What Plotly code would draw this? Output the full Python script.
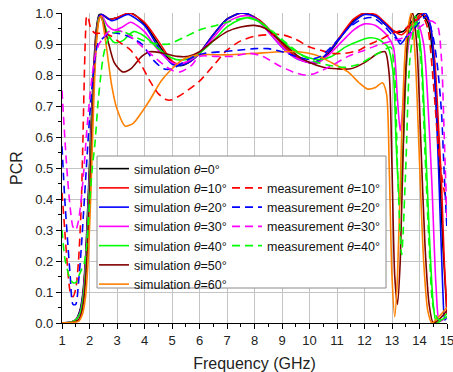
import plotly.graph_objects as go

# ---------------- data ----------------
sim_0 = [(1.0,0.0),(1.3,0.002),(1.5,0.01),(1.65,0.04),(1.75,0.09),(1.85,0.2),(1.95,0.4),(2.05,0.62),(2.15,0.82),(2.25,0.95),
         (2.35,0.995),(2.45,0.995),(2.7,0.98),(3.0,0.985),(3.5,1.0),(4.0,0.965),(4.5,0.9),(5.0,0.84),(5.3,0.83),(5.6,0.84),
         (6.0,0.87),(6.5,0.93),(7.0,0.98),(7.5,1.0),(7.8,0.995),(8.2,0.975),(8.6,0.94),(9.0,0.9),(9.5,0.86),(10.0,0.84),
         (10.3,0.84),(10.7,0.87),(11.2,0.93),(11.6,0.975),(12.0,1.0),(12.4,0.99),(12.8,0.96),(13.1,0.94),(13.4,0.94),(13.7,0.97),
         (14.0,1.0),(14.3,0.97),(14.5,0.85),(14.7,0.55),(14.85,0.25),(15.0,0.03)]
sim_10 = [(1.0,0.0),(1.3,0.002),(1.5,0.01),(1.65,0.035),(1.75,0.08),(1.85,0.19),(1.95,0.38),(2.05,0.6),(2.15,0.8),(2.25,0.94),
          (2.35,0.99),(2.45,0.995),(2.75,0.98),(3.0,0.985),(3.45,1.0),(4.0,0.97),(4.5,0.91),(5.0,0.845),(5.25,0.835),(5.6,0.84),
          (6.0,0.87),(6.5,0.93),(7.0,0.98),(7.5,1.0),(7.8,0.995),(8.2,0.975),(8.6,0.94),(9.0,0.9),(9.5,0.86),(10.0,0.84),
          (10.3,0.845),(10.7,0.875),(11.2,0.935),(11.6,0.98),(12.0,1.0),(12.4,0.995),(12.8,0.965),(13.1,0.94),(13.35,0.93),(13.7,0.96),
          (14.1,1.0),(14.35,0.97),(14.55,0.85),(14.7,0.62),(14.8,0.45),(14.9,0.2),(15.0,0.03)]
sim_20 = [(1.0,0.0),(1.3,0.002),(1.5,0.01),(1.65,0.035),(1.75,0.08),(1.85,0.18),(1.95,0.37),(2.05,0.58),(2.15,0.79),(2.25,0.93),
          (2.35,0.99),(2.45,0.995),(2.8,0.975),(3.0,0.98),(3.4,0.995),(4.0,0.96),(4.5,0.89),(5.0,0.835),(5.2,0.83),(5.6,0.84),
          (6.0,0.87),(6.5,0.93),(7.0,0.98),(7.5,1.0),(7.8,0.995),(8.2,0.97),(8.6,0.93),(9.0,0.89),(9.5,0.855),(10.0,0.84),
          (10.3,0.845),(10.7,0.875),(11.2,0.93),(11.6,0.97),(12.0,0.995),(12.4,0.99),(12.8,0.96),(13.1,0.93),(13.3,0.9),(13.5,0.92),
          (13.8,0.96),(14.2,1.0),(14.4,0.96),(14.55,0.8),(14.7,0.48),(14.85,0.1),(14.92,0.01),(15.0,0.02)]
sim_30 = [(1.0,0.0),(1.3,0.002),(1.5,0.01),(1.65,0.03),(1.75,0.07),(1.85,0.17),(1.95,0.35),(2.05,0.57),(2.15,0.78),(2.25,0.92),
          (2.35,0.985),(2.45,0.99),(2.65,0.96),(2.9,0.945),(3.2,0.955),(3.5,0.97),(4.0,0.94),(4.5,0.88),(5.0,0.84),(5.2,0.835),
          (5.6,0.845),(6.0,0.87),(6.5,0.92),(7.0,0.97),(7.5,0.99),(7.8,0.99),(8.2,0.97),(8.6,0.93),(9.0,0.89),(9.5,0.855),
          (10.0,0.84),(10.3,0.84),(10.7,0.865),(11.2,0.91),(11.6,0.945),(12.0,0.965),(12.4,0.96),(12.8,0.93),(13.05,0.89),(13.2,0.72),
          (13.3,0.62),(13.45,0.75),(13.65,0.92),(13.95,0.96),(14.15,0.9),(14.3,0.72),(14.45,0.45),(14.6,0.12),(14.72,0.005),(14.85,0.01),
          (15.0,0.02)]
sim_40 = [(1.0,0.0),(1.3,0.002),(1.5,0.01),(1.65,0.03),(1.75,0.07),(1.85,0.16),(1.95,0.34),(2.05,0.56),(2.15,0.77),(2.25,0.92),
          (2.35,0.985),(2.45,0.985),(2.65,0.935),(2.9,0.905),(3.2,0.91),(3.6,0.94),(4.0,0.925),(4.5,0.885),(5.0,0.855),(5.3,0.848),
          (5.7,0.855),(6.0,0.87),(6.5,0.91),(7.0,0.955),(7.5,0.98),(7.8,0.985),(8.2,0.97),(8.6,0.94),(9.0,0.91),(9.5,0.875),
          (10.0,0.855),(10.4,0.85),(10.8,0.86),(11.3,0.89),(11.8,0.91),(12.2,0.92),(12.5,0.915),(12.85,0.89),(13.05,0.8),(13.15,0.58),
          (13.28,0.38),(13.42,0.6),(13.6,0.92),(13.85,0.99),(14.05,0.88),(14.2,0.62),(14.35,0.3),(14.5,0.06),(14.62,0.0),(14.8,0.01),
          (15.0,0.02)]
sim_50 = [(1.0,0.0),(1.4,0.002),(1.6,0.01),(1.7,0.03),(1.8,0.08),(1.9,0.2),(2.0,0.4),(2.1,0.65),(2.2,0.85),(2.3,0.96),
          (2.4,0.99),(2.5,0.97),(2.7,0.9),(2.9,0.84),(3.2,0.81),(3.5,0.82),(3.9,0.86),(4.2,0.875),(4.7,0.87),(5.2,0.86),
          (5.6,0.86),(6.0,0.875),(6.5,0.91),(7.0,0.94),(7.5,0.955),(8.0,0.96),(8.4,0.95),(9.0,0.905),(9.6,0.86),(10.0,0.84),
          (10.5,0.825),(11.0,0.82),(11.5,0.82),(12.0,0.84),(12.5,0.87),(12.75,0.875),(12.9,0.8),(13.0,0.5),(13.1,0.15),(13.2,0.06),
          (13.3,0.2),(13.45,0.7),(13.6,0.95),(13.75,1.0),(13.9,0.9),(14.05,0.58),(14.2,0.25),(14.35,0.06),(14.5,0.0),(14.7,0.01),
          (15.0,0.04)]
sim_60 = [(1.0,0.0),(1.4,0.002),(1.6,0.005),(1.75,0.03),(1.85,0.08),(1.95,0.2),(2.05,0.42),(2.15,0.7),(2.25,0.9),(2.35,0.98),
          (2.42,0.99),(2.6,0.9),(2.8,0.77),(3.0,0.69),(3.3,0.635),(3.6,0.645),(3.9,0.68),(4.2,0.72),(4.6,0.78),(5.0,0.82),
          (5.4,0.85),(6.0,0.865),(7.0,0.865),(8.0,0.87),(9.0,0.875),(9.6,0.875),(10.2,0.865),(10.8,0.84),(11.4,0.81),(11.8,0.775),
          (12.1,0.755),(12.4,0.76),(12.65,0.775),(12.8,0.74),(12.9,0.5),(13.0,0.15),(13.1,0.02),(13.2,0.15),(13.35,0.6),(13.5,0.9),
          (13.7,1.0),(13.85,0.85),(14.0,0.52),(14.15,0.2),(14.3,0.04),(14.45,0.0),(14.7,0.02),(15.0,0.05)]

meas_10 = [(1.0,0.42),(1.1,0.3),(1.2,0.18),(1.3,0.1),(1.4,0.085),(1.5,0.11),(1.6,0.2),(1.7,0.38),(1.75,0.55),(1.8,0.75),
           (1.85,0.92),(1.9,0.99),(1.95,0.985),(2.05,0.95),(2.2,0.935),(2.5,0.935),(2.8,0.925),(3.1,0.905),(3.5,0.88),(3.9,0.83),
           (4.2,0.78),(4.5,0.74),(4.8,0.72),(5.0,0.72),(5.4,0.74),(6.0,0.78),(6.5,0.83),(7.0,0.88),(7.5,0.91),(8.0,0.925),
           (8.5,0.93),(9.0,0.93),(9.5,0.915),(10.0,0.89),(10.4,0.88),(10.8,0.87),(11.3,0.87),(11.8,0.88),(12.2,0.9),(12.6,0.915),
           (13.0,0.935),(13.4,0.945),(13.8,0.97),(14.1,0.99),(14.3,0.95),(14.5,0.78),(14.7,0.55),(14.85,0.45),(15.0,0.38)]
meas_20 = [(1.0,0.57),(1.1,0.4),(1.2,0.27),(1.3,0.15),(1.4,0.06),(1.5,0.06),(1.6,0.13),(1.7,0.24),(1.8,0.38),(1.9,0.52),
           (2.0,0.66),(2.1,0.77),(2.2,0.85),(2.3,0.9),(2.5,0.92),(2.7,0.935),(3.0,0.935),(3.4,0.925),(3.9,0.9),(4.3,0.85),
           (4.7,0.82),(5.0,0.82),(5.4,0.84),(5.8,0.86),(6.2,0.87),(6.8,0.875),(7.4,0.88),(8.0,0.885),(8.5,0.885),(9.0,0.875),
           (9.5,0.86),(10.0,0.85),(10.4,0.86),(10.9,0.9),(11.4,0.95),(11.9,0.98),(12.3,0.985),(12.7,0.96),(13.0,0.93),(13.3,0.91),
           (13.6,0.93),(14.0,0.97),(14.25,0.99),(14.5,0.92),(14.65,0.83),(14.8,0.68),(14.9,0.48),(15.0,0.3)]
meas_30 = [(1.0,0.75),(1.1,0.6),(1.2,0.47),(1.3,0.37),(1.4,0.31),(1.5,0.3),(1.6,0.33),(1.7,0.4),(1.8,0.5),(1.9,0.62),
           (2.0,0.72),(2.1,0.8),(2.2,0.86),(2.35,0.9),(2.5,0.92),(2.7,0.94),(3.0,0.945),(3.4,0.93),(3.8,0.9),(4.2,0.87),
           (4.6,0.84),(5.0,0.815),(5.3,0.81),(5.7,0.83),(6.0,0.86),(6.6,0.86),(7.2,0.86),(7.8,0.87),(8.3,0.86),(8.9,0.83),
           (9.4,0.81),(9.8,0.8),(10.2,0.805),(10.8,0.83),(11.4,0.86),(12.0,0.88),(12.6,0.9),(13.0,0.91),(13.4,0.92),(13.8,0.94),
           (14.1,0.96),(14.4,0.975),(14.65,0.96),(14.8,0.85),(14.9,0.6),(15.0,0.33)]
meas_40 = [(1.0,0.3),(1.1,0.21),(1.2,0.17),(1.3,0.14),(1.4,0.13),(1.5,0.13),(1.6,0.15),(1.7,0.17),(1.8,0.19),(1.9,0.25),
           (2.0,0.38),(2.1,0.5),(2.2,0.58),(2.3,0.7),(2.4,0.79),(2.5,0.86),(2.65,0.91),(2.85,0.935),(3.2,0.94),(3.6,0.925),
           (4.0,0.91),(4.5,0.9),(4.9,0.9),(5.4,0.92),(6.0,0.945),(6.6,0.96),(7.2,0.975),(7.7,0.985),(8.1,0.975),(8.6,0.945),
           (9.2,0.9),(9.8,0.86),(10.3,0.84),(10.8,0.83),(11.3,0.825),(11.8,0.835),(12.3,0.86),(12.7,0.88),(12.95,0.89),(13.1,0.8),
           (13.2,0.5),(13.35,0.22),(13.5,0.5),(13.65,0.85),(13.85,0.97),(14.05,0.85),(14.2,0.55),(14.35,0.25),(14.5,0.05),(14.7,0.01),
           (15.0,0.03)]

sim_series = [("0", sim_0, "#000000"), ("10", sim_10, "#FF0000"), ("20", sim_20, "#0000FF"),
              ("30", sim_30, "#FF00FF"), ("40", sim_40, "#00FF00"), ("50", sim_50, "#800000"),
              ("60", sim_60, "#FF8000")]
meas_series = [("10", meas_10, "#FF0000"), ("20", meas_20, "#0000FF"),
               ("30", meas_30, "#FF00FF"), ("40", meas_40, "#00FF00")]

FONT = "Liberation Sans, Arial, sans-serif"
fig = go.Figure()

for ang, pts, col in sim_series:
    fig.add_trace(go.Scatter(
        x=[p[0] for p in pts], y=[p[1] for p in pts], mode="lines",
        line=dict(color=col, width=1.6, shape="spline", smoothing=0.7),
        name="simulation <i>θ</i>=%s°" % ang,
        legend="legend", cliponaxis=True))

for ang, pts, col in meas_series:
    fig.add_trace(go.Scatter(
        x=[p[0] for p in pts], y=[p[1] for p in pts], mode="lines",
        line=dict(color=col, width=1.6, dash="8px,5px", shape="spline", smoothing=0.7),
        name="measurement <i>θ</i>=%s°" % ang,
        legend="legend2", cliponaxis=True))

# plot area in pixels: x 62..447, y 13..323
def px_x(p):
    return (p - 62) / 385.0

def px_y(p):
    return (323 - p) / 310.0

fig.add_shape(type="rect", xref="paper", yref="paper",
              x0=px_x(97), x1=px_x(386), y0=px_y(288), y1=px_y(156),
              line=dict(color="#8a8a8a", width=1), fillcolor="white", layer="above")

legend_common = dict(xanchor="left", yanchor="top", bgcolor="rgba(0,0,0,0)",
                     borderwidth=0, font=dict(family=FONT, size=12.5, color="#111"),
                     itemwidth=30, tracegroupgap=0)

axis_common = dict(showline=True, linecolor="#000", linewidth=1.3, ticks="outside",
                   ticklen=5, tickwidth=1, tickcolor="#000", zeroline=False,
                   showgrid=True, gridcolor="#c4c4c4", gridwidth=1,
                   ticklabeloverflow="allow", automargin=False,
                   tickfont=dict(family=FONT, size=13, color="#222"))

fig.update_layout(
    width=453, height=372,
    margin=dict(l=62, r=6, t=13, b=49, pad=0, autoexpand=False),
    paper_bgcolor="white", plot_bgcolor="white",
    font=dict(family=FONT, color="#222"),
    showlegend=True,
    legend=dict(x=px_x(94), y=px_y(154), **legend_common),
    legend2=dict(x=px_x(227), y=px_y(173.25), **legend_common),
    xaxis=dict(range=[1, 15], tick0=1, dtick=1,
               minor=dict(dtick=0.5, ticks="outside", ticklen=3, tickcolor="#000", showgrid=False),
               title=dict(text="Frequency (GHz)", font=dict(family=FONT, size=16, color="#222"), standoff=12),
               **axis_common),
    yaxis=dict(range=[0, 1], tick0=0, dtick=0.1, tickformat=".1f",
               minor=dict(dtick=0.05, ticks="outside", ticklen=3, tickcolor="#000", showgrid=False),
               title=dict(text="PCR", font=dict(family=FONT, size=16, color="#222"), standoff=8),
               **axis_common),
    xaxis2=dict(overlaying="x", side="top", range=[1, 15], tick0=1, dtick=1,
                showticklabels=False, ticks="inside", ticklen=5, tickcolor="#000",
                minor=dict(dtick=0.5, ticks="inside", ticklen=3, tickcolor="#000", showgrid=False),
                showline=True, linecolor="#000", linewidth=1.3, showgrid=False, zeroline=False,
                automargin=False),
    yaxis2=dict(overlaying="y", side="right", range=[0, 1], tick0=0, dtick=0.1,
                showticklabels=False, ticks="inside", ticklen=5, tickcolor="#000",
                minor=dict(dtick=0.05, ticks="inside", ticklen=3, tickcolor="#000", showgrid=False),
                showline=True, linecolor="#000", linewidth=1.3, showgrid=False, zeroline=False,
                automargin=False),
)

fig.write_html("out.html")
